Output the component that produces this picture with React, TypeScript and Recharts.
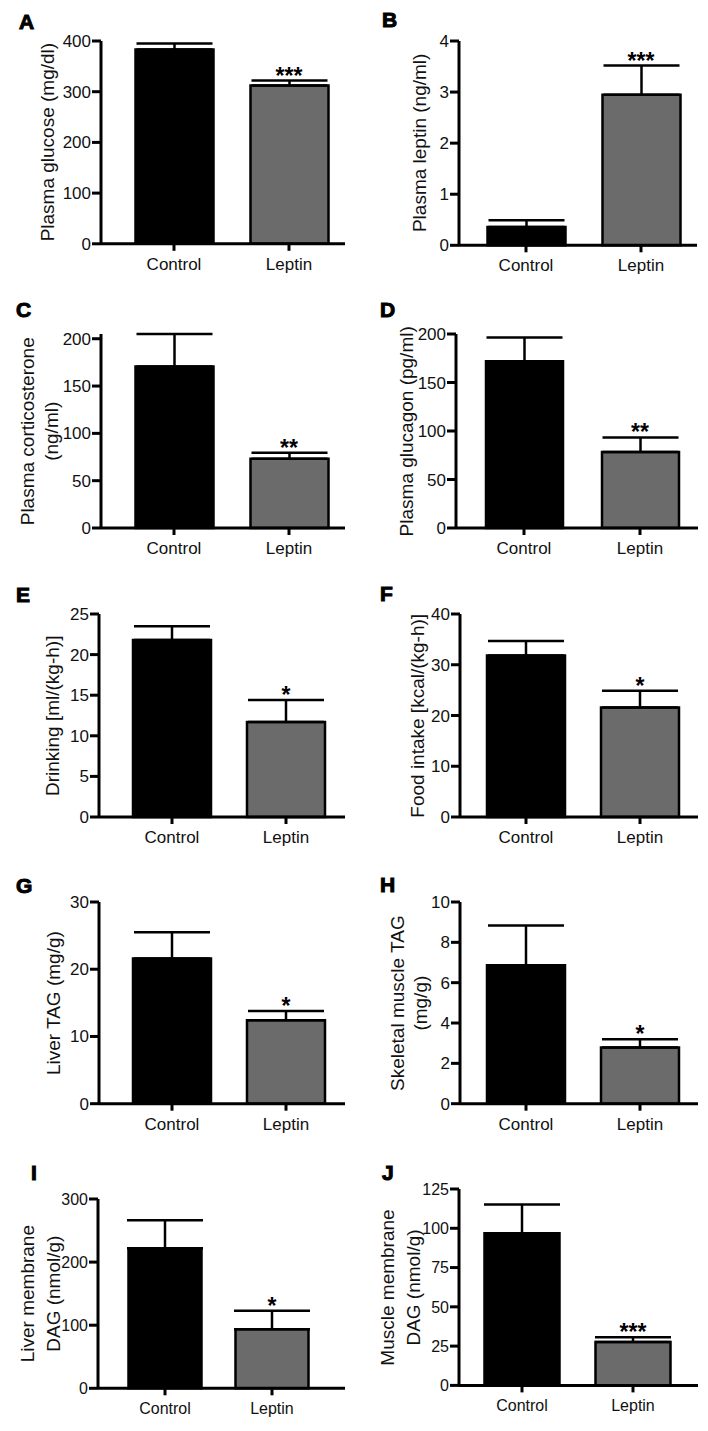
import { ComposedChart, Bar, Cell, ErrorBar, Scatter, XAxis, YAxis } from 'recharts'

const groups = ['Control', 'Leptin']
const fills = ['#000000', '#6b6b6b']

// A
const glucoseMean = [383, 312]
const glucoseUpper = [395, 322]
const glucoseTicks = [0, 100, 200, 300, 400]
const glucoseStars = ['', '***']
// B
const leptinMean = [0.36, 2.95]
const leptinUpper = [0.49, 3.52]
const leptinTicks = [0, 1, 2, 3, 4]
const leptinStars = ['', '***']
// C
const corticoMean = [170.7, 73.2]
const corticoUpper = [205, 79.4]
const corticoTicks = [0, 50, 100, 150, 200]
const corticoStars = ['', '**']
// D
const glucagonMean = [171.8, 78.4]
const glucagonUpper = [196.5, 93.4]
const glucagonTicks = [0, 50, 100, 150, 200]
const glucagonStars = ['', '**']
// E
const drinkingMean = [21.8, 11.7]
const drinkingUpper = [23.5, 14.4]
const drinkingTicks = [0, 5, 10, 15, 20, 25]
const drinkingStars = ['', '*']
// F
const foodMean = [31.8, 21.6]
const foodUpper = [34.7, 24.9]
const foodTicks = [0, 10, 20, 30, 40]
const foodStars = ['', '*']
// G
const liverTagMean = [21.6, 12.4]
const liverTagUpper = [25.5, 13.8]
const liverTagTicks = [0, 10, 20, 30]
const liverTagStars = ['', '*']
// H
const muscleTagMean = [6.86, 2.79]
const muscleTagUpper = [8.84, 3.19]
const muscleTagTicks = [0, 2, 4, 6, 8, 10]
const muscleTagStars = ['', '*']
// I
const liverDagMean = [221.8, 93.5]
const liverDagUpper = [266.2, 123]
const liverDagTicks = [0, 100, 200, 300]
const liverDagStars = ['', '*']
// J
const muscleDagMean = [96.8, 27.6]
const muscleDagUpper = [115.2, 30.6]
const muscleDagTicks = [0, 25, 50, 75, 100, 125]
const muscleDagStars = ['', '***']

type Panel = {
  letter: string
  label: string[]
  mean: number[]
  upper: number[]
  ticks: number[]
  stars: string[]
  // layout (page pixels)
  axisX: number
  topY: number
  zeroY: number
  endX: number
  c1: number
  c2: number
  barW: number
  labelX: number[]
  letterX: number
  letterY: number
  font: number
}

const panels: Panel[] = [
  { letter: 'A', label: ['Plasma glucose (mg/dl)'], mean: glucoseMean, upper: glucoseUpper, ticks: glucoseTicks, stars: glucoseStars,
    axisX: 101, topY: 40.7, zeroY: 243.5, endX: 345, c1: 174, c2: 289, barW: 78, labelX: [54], letterX: 19, letterY: 29, font: 17 },
  { letter: 'B', label: ['Plasma leptin (ng/ml)'], mean: leptinMean, upper: leptinUpper, ticks: leptinTicks, stars: leptinStars,
    axisX: 459, topY: 40.7, zeroY: 245, endX: 697, c1: 526, c2: 641, barW: 78, labelX: [426], letterX: 382, letterY: 27, font: 17 },
  { letter: 'C', label: ['Plasma corticosterone', '(ng/ml)'], mean: corticoMean, upper: corticoUpper, ticks: corticoTicks, stars: corticoStars,
    axisX: 101, topY: 334.3, zeroY: 528.3, endX: 345, c1: 174, c2: 289, barW: 78, labelX: [34.3, 58], letterX: 16, letterY: 316.7, font: 17 },
  { letter: 'D', label: ['Plasma glucagon (pg/ml)'], mean: glucagonMean, upper: glucagonUpper, ticks: glucagonTicks, stars: glucagonStars,
    axisX: 456, topY: 334.3, zeroY: 528.3, endX: 698, c1: 524, c2: 640, barW: 77, labelX: [412.6], letterX: 380, letterY: 316.7, font: 17 },
  { letter: 'E', label: ['Drinking [ml/(kg-h)]'], mean: drinkingMean, upper: drinkingUpper, ticks: drinkingTicks, stars: drinkingStars,
    axisX: 99, topY: 614.3, zeroY: 817.3, endX: 345, c1: 172, c2: 286, barW: 78, labelX: [59], letterX: 16, letterY: 602.3, font: 17 },
  { letter: 'F', label: ['Food intake [kcal/(kg-h)]'], mean: foodMean, upper: foodUpper, ticks: foodTicks, stars: foodStars,
    axisX: 460, topY: 614.3, zeroY: 817.3, endX: 698, c1: 526, c2: 640, barW: 78, labelX: [424], letterX: 380, letterY: 601, font: 17 },
  { letter: 'G', label: ['Liver TAG (mg/g)'], mean: liverTagMean, upper: liverTagUpper, ticks: liverTagTicks, stars: liverTagStars,
    axisX: 99, topY: 902.3, zeroY: 1104, endX: 345, c1: 172, c2: 286, barW: 78, labelX: [60], letterX: 16, letterY: 893.3, font: 17 },
  { letter: 'H', label: ['Skeletal muscle TAG', '(mg/g)'], mean: muscleTagMean, upper: muscleTagUpper, ticks: muscleTagTicks, stars: muscleTagStars,
    axisX: 460, topY: 902.3, zeroY: 1104, endX: 698, c1: 526, c2: 640, barW: 78, labelX: [403.6, 427], letterX: 380, letterY: 892.3, font: 17 },
  { letter: 'I', label: ['Liver membrane', 'DAG (nmol/g)'], mean: liverDagMean, upper: liverDagUpper, ticks: liverDagTicks, stars: liverDagStars,
    axisX: 98, topY: 1199, zeroY: 1388.3, endX: 345, c1: 165, c2: 272, barW: 73, labelX: [34.3, 59.6], letterX: 31, letterY: 1180, font: 16 },
  { letter: 'J', label: ['Muscle membrane', 'DAG (nmol/g)'], mean: muscleDagMean, upper: muscleDagUpper, ticks: muscleDagTicks, stars: muscleDagStars,
    axisX: 459, topY: 1189.3, zeroY: 1385.7, endX: 698, c1: 522, c2: 633, barW: 75, labelX: [394.3, 420.3], letterX: 382, letterY: 1180, font: 16 },
]

const M_TOP = 20
const M_RIGHT = 6
const X_H = 40

function StarShape(props: any) {
  const { cx, cy, payload } = props
  if (!payload || !payload.stars) return <g />
  return (
    <text x={cx} y={cy + 3} textAnchor="middle" fontSize={23} fontWeight="bold" fill="#000">
      {payload.stars}
    </text>
  )
}

function PanelChart({ p }: { p: Panel }) {
  const colLeft = p.axisX > 354 ? 354 : 0
  const plotH = p.zeroY - p.topY
  const plotW = p.endX - p.axisX
  const band = p.c2 - p.c1
  const padL = p.c1 - p.axisX - band / 2
  const padR = plotW - padL - 2 * band
  const data = groups.map((g, i) => ({
    group: g,
    mean: p.mean[i],
    err: [0, p.upper[i] - p.mean[i]],
    top: p.upper[i],
    stars: p.stars[i],
  }))
  const max = p.ticks[p.ticks.length - 1]
  const tickStyle = { fontSize: p.font, fill: '#111' }

  return (
    <div style={{ position: 'absolute', left: colLeft, top: p.topY - M_TOP }}>
      <ComposedChart
        width={p.endX - colLeft + M_RIGHT}
        height={M_TOP + plotH + X_H}
        data={data}
        margin={{ top: M_TOP, right: M_RIGHT, bottom: 0, left: 0 }}
      >
        <XAxis
          dataKey="group"
          height={X_H}
          interval={0}
          padding={{ left: padL, right: padR }}
          axisLine={{ stroke: '#000', strokeWidth: 3 }}
          tickLine={{ stroke: '#000', strokeWidth: 3 }}
          tickSize={7}
          tickMargin={7}
          tick={tickStyle}
        />
        <YAxis
          type="number"
          width={p.axisX - colLeft}
          domain={[0, max]}
          ticks={p.ticks}
          interval={0}
          axisLine={{ stroke: '#000', strokeWidth: 3 }}
          tickLine={{ stroke: '#000', strokeWidth: 3 }}
          tickSize={9}
          tickMargin={1}
          tick={tickStyle}
        />
        <Bar dataKey="mean" barSize={p.barW} stroke="#000" strokeWidth={2.5} isAnimationActive={false}>
          {data.map((d, i) => (
            <Cell key={d.group} fill={fills[i]} />
          ))}
          <ErrorBar dataKey="err" direction="y" width={38} stroke="#000" strokeWidth={2.5} isAnimationActive={false} />
        </Bar>
        <Scatter dataKey="top" shape={StarShape} isAnimationActive={false} />
      </ComposedChart>
    </div>
  )
}

export default function App() {
  return (
    <div
      style={{
        position: 'absolute',
        left: 0,
        top: 0,
        width: 708,
        height: 1431,
        background: '#fff',
        fontFamily: '"Liberation Sans", Arial, sans-serif',
      }}
    >
      {panels.map((p) => (
        <PanelChart key={p.letter} p={p} />
      ))}
      <svg width={708} height={1431} style={{ position: 'absolute', left: 0, top: 0, pointerEvents: 'none' }}>
        {panels.map((p) => {
          const cy = (p.topY + p.zeroY) / 2
          return (
            <g key={p.letter}>
              <text x={p.letterX} y={p.letterY} fontSize={21} fontWeight="bold" stroke="#000" strokeWidth={1} fill="#000">
                {p.letter}
              </text>
              {p.label.map((line, i) => (
                <text
                  key={line}
                  x={p.labelX[i]}
                  y={cy}
                  transform={`rotate(-90 ${p.labelX[i]} ${cy})`}
                  textAnchor="middle"
                  fontSize={19}
                  fill="#111"
                >
                  {line}
                </text>
              ))}
            </g>
          )
        })}
      </svg>
    </div>
  )
}
